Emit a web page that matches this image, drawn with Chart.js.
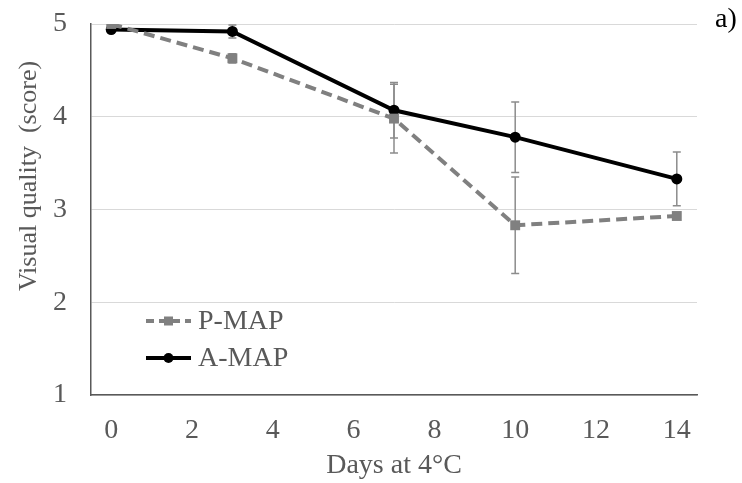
<!DOCTYPE html>
<html>
<head>
<meta charset="utf-8">
<script src="https://cdn.jsdelivr.net/npm/chart.js@4"></script>
<style>
html,body{margin:0;padding:0;background:#fff;}
#wrap{width:742px;height:483px;position:relative;}
</style>
</head>
<body>
<div id="wrap"><canvas id="c" width="742" height="483"></canvas></div>
<script>
const days = [0, 3, 7, 10, 14];
const pmapValues = [5.00, 4.63, 3.98, 2.83, 2.93];
const pmapErrors = [0.00, 0.05, 0.37, 0.52, 0.03];
const amapValues = [4.94, 4.92, 4.07, 3.78, 3.33];
const amapErrors = [0.03, 0.07, 0.30, 0.38, 0.29];
const xTickValues = [0, 2, 4, 6, 8, 10, 12, 14];
const yTickValues = [1, 2, 3, 4, 5];
const seriesNames = ['P-MAP', 'A-MAP'];
const xTitle = 'Days at 4°C';
const yTitle = 'Visual quality  (score)';
const panelLabel = 'a)';

const SERIF = '"Liberation Serif", "Times New Roman", serif';
const GRAY_TEXT = '#595959';
const PMAP_COLOR = '#808080';
const AMAP_COLOR = '#000000';
const ERR_COLOR = '#8c8c8c';

function toPoints(xs, ys){ return xs.map((x,i)=>({x:x, y:ys[i]})); }

const errorBarPlugin = {
  id: 'errorBars',
  beforeDatasetsDraw(chart){
    const ctx = chart.ctx;
    const xs = chart.scales.x, ys = chart.scales.y;
    const sets = [[pmapValues, pmapErrors],[amapValues, amapErrors]];
    ctx.save();
    ctx.strokeStyle = ERR_COLOR;
    ctx.lineWidth = 1.5;
    sets.forEach(([vals, errs])=>{
      days.forEach((d,i)=>{
        const e = errs[i];
        if (!e) return;
        const px = xs.getPixelForValue(d);
        const top = ys.getPixelForValue(vals[i] + e);
        const bot = ys.getPixelForValue(vals[i] - e);
        ctx.beginPath();
        ctx.moveTo(px, top); ctx.lineTo(px, bot);
        ctx.moveTo(px-4, top); ctx.lineTo(px+4, top);
        ctx.moveTo(px-4, bot); ctx.lineTo(px+4, bot);
        ctx.stroke();
      });
    });
    ctx.restore();
  }
};

const decorPlugin = {
  id: 'decor',
  afterDraw(chart){
    const ctx = chart.ctx;
    const ca = chart.chartArea;
    ctx.save();
    ctx.fillStyle = GRAY_TEXT;
    ctx.font = '26px ' + SERIF;
    ctx.textAlign = 'center';
    ctx.textBaseline = 'middle';
    ctx.translate(29, 176);
    ctx.rotate(-Math.PI/2);
    ctx.fillText(yTitle, 0, 0);
    ctx.restore();

    ctx.save();
    ctx.fillStyle = '#000';
    ctx.font = '28px ' + SERIF;
    ctx.textAlign = 'left';
    ctx.textBaseline = 'alphabetic';
    ctx.fillText(panelLabel, 715, 27);
    ctx.restore();

    const lx0 = ca.left + 55, lx1 = ca.left + 100;
    const rows = [
      {name: seriesNames[0], y: 321, color: PMAP_COLOR, dash: [8,5], marker: 'rect'},
      {name: seriesNames[1], y: 358, color: AMAP_COLOR, dash: [], marker: 'circle'}
    ];
    rows.forEach(r=>{
      ctx.save();
      ctx.strokeStyle = r.color;
      ctx.lineWidth = 4;
      ctx.setLineDash(r.dash);
      ctx.beginPath();
      ctx.moveTo(lx0, r.y); ctx.lineTo(lx1, r.y);
      ctx.stroke();
      ctx.setLineDash([]);
      ctx.fillStyle = r.color;
      const mx = (lx0+lx1)/2;
      if (r.marker === 'rect') { ctx.fillRect(mx-4.5, r.y-4.5, 9, 9); }
      else { ctx.beginPath(); ctx.arc(mx, r.y, 5, 0, Math.PI*2); ctx.fill(); }
      ctx.fillStyle = GRAY_TEXT;
      ctx.font = '28px ' + SERIF;
      ctx.textAlign = 'left';
      ctx.textBaseline = 'middle';
      ctx.fillText(r.name, lx1 + 7, r.y + 1);
      ctx.restore();
    });
  }
};

new Chart(document.getElementById('c'), {
  type: 'line',
  data: {
    datasets: [
      {
        label: seriesNames[0],
        data: toPoints(days, pmapValues),
        borderColor: PMAP_COLOR,
        backgroundColor: PMAP_COLOR,
        borderWidth: 4,
        borderDash: [11, 6],
        pointStyle: 'rect',
        pointRadius: 7,
        pointBorderWidth: 0,
        tension: 0
      },
      {
        label: seriesNames[1],
        data: toPoints(days, amapValues),
        borderColor: AMAP_COLOR,
        backgroundColor: AMAP_COLOR,
        borderWidth: 4,
        pointStyle: 'circle',
        pointRadius: 5.5,
        pointBorderWidth: 0,
        tension: 0
      }
    ]
  },
  options: {
    responsive: false,
    animation: false,
    layout: { padding: { left: 0, right: 45, top: 24, bottom: 0 } },
    plugins: { legend: { display: false }, tooltip: { enabled: false } },
    scales: {
      x: {
        type: 'linear',
        min: -0.5, max: 14.5,
        afterBuildTicks(s){ s.ticks = xTickValues.map(v=>({value:v})); },
        afterFit(s){ s.height = 88; s.paddingLeft = 0; s.paddingRight = 0; },
        grid: { drawOnChartArea: false, drawTicks: false },
        border: { display: true, color: '#595959', width: 1.5 },
        ticks: { color: GRAY_TEXT, font: { family: SERIF, size: 28 }, padding: 19, maxRotation: 0, autoSkip: false },
        title: { display: true, text: xTitle, color: GRAY_TEXT, font: { family: SERIF, size: 28 }, padding: { top: 0, bottom: 1 } }
      },
      y: {
        type: 'linear',
        min: 1, max: 5,
        afterBuildTicks(s){ s.ticks = yTickValues.map(v=>({value:v})); },
        afterFit(s){ s.width = 91; s.paddingTop = 0; s.paddingBottom = 0; },
        grid: { color: '#d9d9d9', lineWidth: 1, drawTicks: false },
        border: { display: true, color: '#595959', width: 1.5 },
        ticks: { color: GRAY_TEXT, font: { family: SERIF, size: 28 }, padding: 24 }
      }
    }
  },
  plugins: [errorBarPlugin, decorPlugin]
});
</script>
</body>
</html>
